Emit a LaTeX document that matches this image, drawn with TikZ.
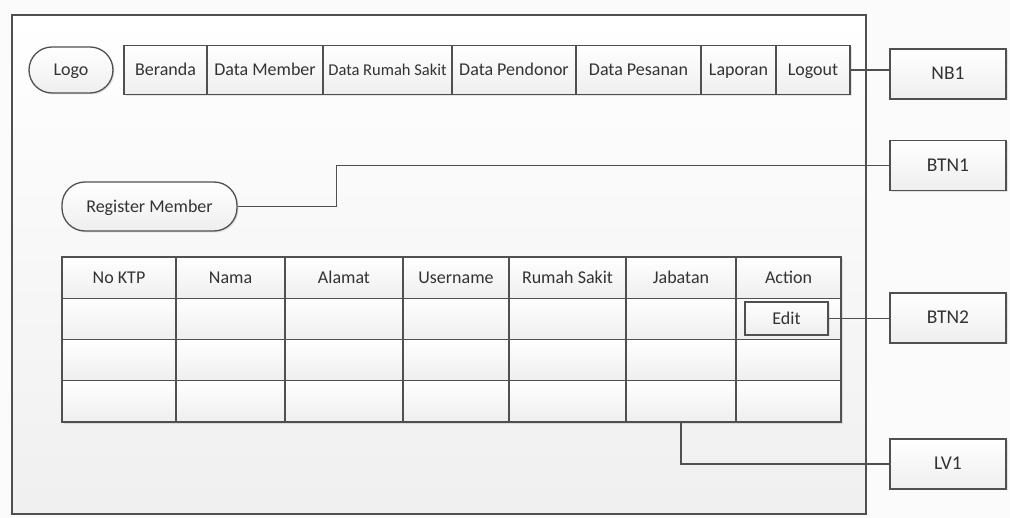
\documentclass[tikz,border=0pt]{standalone}
\usepackage{fontspec}
\setmainfont{Carlito}
\usetikzlibrary{shadows}

\definecolor{lineclr}{HTML}{505050}
\definecolor{txtclr}{HTML}{333333}

\tikzset{
    box/.style={draw=lineclr, line width=1.3pt, top color=white, bottom color=gray!13,
        text=txtclr, inner sep=0pt, text height=14pt, text depth=2.5pt,
        font=\fontsize{18}{20}\selectfont,
        drop shadow={opacity=0.2, shadow xshift=1.5pt, shadow yshift=-1.5pt}},
    pill/.style={box, rounded corners=23pt},
    cell/.style={box, minimum height=41.25pt},
    tag/.style={box, minimum width=116pt, minimum height=50pt, font=\fontsize{19.5}{22}\selectfont},
    link/.style={draw=lineclr, line width=1.3pt},
}

\begin{document}
\begin{tikzpicture}[x=1pt, y=-1pt]
    \useasboundingbox [fill=gray!3] (0,0) rectangle (1010,518);
    % page frame
    \draw [lineclr, line width=1.3pt, top color=white, bottom color=gray!12] (12,15) rectangle (866,514);

    % menu bar
    \node [pill, minimum width=84pt, minimum height=46pt] (logo) at (71,70) {Logo};
    \node [box, minimum width=83pt, minimum height=49pt] (beranda) at (165.5,70) {Beranda};
    \node [box, minimum width=116pt, minimum height=49pt] (member) at (265,70) {Data Member};
    \node [box, minimum width=129pt, minimum height=49pt, font=\fontsize{16.5}{18}\selectfont] (rs) at (387.5,70) {Data Rumah Sakit};
    \node [box, minimum width=124pt, minimum height=49pt] (pendonor) at (514,70) {Data Pendonor};
    \node [box, minimum width=125pt, minimum height=49pt] (pesanan) at (638.5,70) {Data Pesanan};
    \node [box, minimum width=75pt, minimum height=49pt] (laporan) at (738.5,70) {Laporan};
    \node [box, minimum width=74pt, minimum height=49pt] (logout) at (813,70) {Logout};

    \node [pill, minimum width=175pt, minimum height=49pt] (reg) at (149.5,206.5) {Register Member};

    % list view
    \foreach \c/\x/\w/\t in {1/119/114/No KTP, 2/230.5/109/Nama, 3/344/118/Alamat,
        4/456/106/Username, 5/567.5/117/Rumah Sakit, 6/681/110/Jabatan, 7/788.5/105/Action} {
        \node [cell, minimum width=\w pt] (c-1-\c) at (\x,277.6) {\t};
        \foreach \r/\y in {2/318.9, 3/360.1, 4/401.4}
            \node [cell, minimum width=\w pt] (c-\r-\c) at (\x,\y) {};
    }
    \node [box, minimum width=83pt, minimum height=33pt] (edit) at (786.5,318.5) {Edit};

    % labels
    \node [tag] (nb1) at (948,74) {NB1};
    \node [tag] (btn1) at (948,165.5) {BTN1};
    \node [tag] (btn2) at (948,318) {BTN2};
    \node [tag] (lv1) at (948,464) {LV1};

    \draw [link] (logout.east) -- (logout.east -| nb1.west);
    \draw [link] (reg.east) -- ++(99,0) |- (btn1.west);
    \draw [link] (edit.east) -- (edit.east -| btn2.west);
    \draw [link] (c-4-6.south) |- (lv1.west);
\end{tikzpicture}
\end{document}
